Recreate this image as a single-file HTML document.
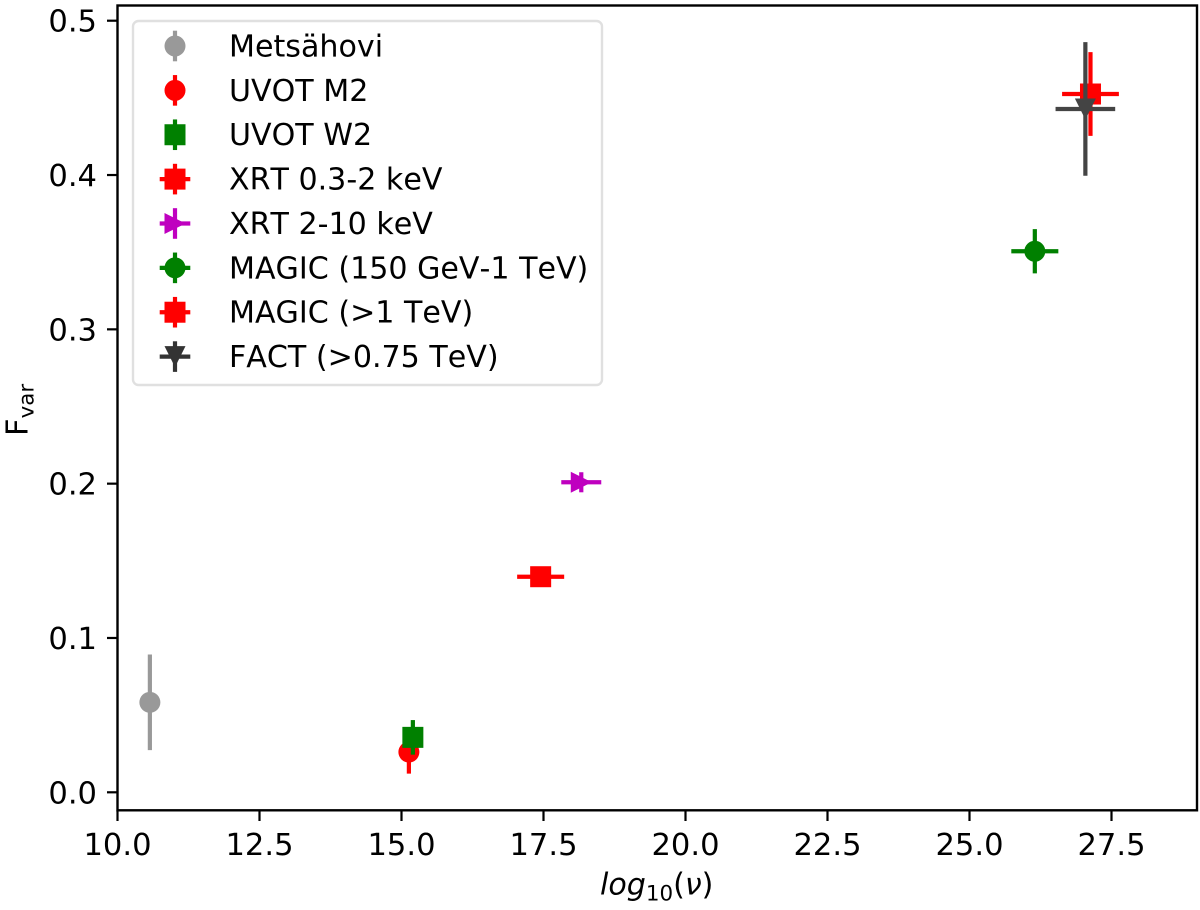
<!DOCTYPE html>
<html lang="en">
<head>
<meta charset="utf-8">
<title>Fractional variability vs frequency</title>
<style>
html,body{margin:0;padding:0;background:#fff;}
body{width:1200px;height:910px;overflow:hidden;}
svg{display:block;}
text{font-family:"DejaVu Sans","Liberation Sans",sans-serif;fill:#000;font-size:30.56px;font-kerning:none;}
text.legend-label,text.x-title{font-size:30.1px;}
</style>
</head>
<body>
<svg id="chart" xmlns="http://www.w3.org/2000/svg" width="1200" height="910" viewBox="0 0 1200 910">
  <rect x="0" y="0" width="1200" height="910" fill="#ffffff"/>
  <g id="plot"></g>
  <rect x="117.5" y="5.5" width="1079.5" height="804.8" fill="none" stroke="#000" stroke-width="2.4"/>
  <g id="ticks"></g>
  <g id="legend">
    <rect x="133" y="21" width="469" height="364" rx="5.5" ry="5.5" fill="#ffffff" fill-opacity="0.8" stroke="#e0e0e0" stroke-width="2.4"/>
  </g>
  <text class="x-title" x="600" y="894.5"><tspan font-style="italic">log</tspan><tspan style="font-size:21.4px" dy="6">10</tspan><tspan dy="-6">(</tspan><tspan font-style="italic">ν</tspan><tspan>)</tspan></text>
  <text transform="translate(27.3,436) rotate(-90)" x="0" y="0">F<tspan style="font-size:21.4px" dy="6">var</tspan></text>
</svg>
<script>
// Chart data
const categories = ['Metsähovi', 'UVOT M2', 'UVOT W2', 'XRT 0.3-2 keV', 'XRT 2-10 keV', 'MAGIC (150 GeV-1 TeV)', 'MAGIC (>1 TeV)', 'FACT (>0.75 TeV)'];
const logNu = [10.57, 15.13, 15.2, 17.45, 18.165, 26.15, 27.13, 27.04];
const fvar = [0.0583, 0.0261, 0.0356, 0.1397, 0.2009, 0.3506, 0.4525, 0.4428];
const logNuErr = [0, 0, 0, 0.414, 0.352, 0.414, 0.5, 0.525];
const fvarErr = [0.031, 0.014, 0.0112, 0.005, 0.0065, 0.0143, 0.0271, 0.0433];
const xTickValues = [10, 12.5, 15, 17.5, 20, 22.5, 25, 27.5];
const xTickLabels = ['10.0', '12.5', '15.0', '17.5', '20.0', '22.5', '25.0', '27.5'];
const yTickValues = [0, 0.1, 0.2, 0.3, 0.4, 0.5];
const yTickLabels = ['0.0', '0.1', '0.2', '0.3', '0.4', '0.5'];
const seriesColors = ['#999999', '#ff0000', '#008000', '#ff0000', '#bf00bf', '#008000', '#ff0000', '#444444'];
const legendColors = ['#999999', '#ff0000', '#008000', '#ff0000', '#bf00bf', '#008000', '#ff0000', '#333333'];
const seriesMarkers = ['circle', 'circle', 'square', 'square', 'triangle-right', 'circle', 'square', 'triangle-down'];

// Axis functions
const xScale = v => 117.5 + (v - 10) * 56.8;
const yScale = v => 792.3 - v * 1543.2;

const NS = 'http://www.w3.org/2000/svg';
const MARKER_R = 10.5;
const LINE_W = 4.2;

function svgEl(tag, attrs, parent) {
  const el = document.createElementNS(NS, tag);
  for (const k in attrs) el.setAttribute(k, attrs[k]);
  parent.appendChild(el);
  return el;
}

function slug(s) {
  return s.toLowerCase().replace(/[^a-z0-9]+/g, '-').replace(/^-|-$/g, '');
}

function drawMarker(kind, cx, cy, color, parent, name) {
  const r = MARKER_R;
  let el;
  if (kind === 'circle') {
    el = svgEl('circle', {cx: cx, cy: cy, r: r, fill: color}, parent);
  } else if (kind === 'square') {
    el = svgEl('rect', {x: cx - r, y: cy - r, width: 2 * r, height: 2 * r, fill: color}, parent);
  } else if (kind === 'triangle-right') {
    el = svgEl('polygon', {points: (cx - r) + ',' + (cy - r) + ' ' + (cx + r) + ',' + cy + ' ' + (cx - r) + ',' + (cy + r), fill: color}, parent);
  } else {
    el = svgEl('polygon', {points: (cx - r) + ',' + (cy - r) + ' ' + (cx + r) + ',' + (cy - r) + ' ' + cx + ',' + (cy + r), fill: color}, parent);
  }
  
  
}

function drawBar(x1, y1, x2, y2, color, parent, name) {
  const el = svgEl('line', {x1: x1, y1: y1, x2: x2, y2: y2, stroke: color, 'stroke-width': LINE_W}, parent);
  
  
}

// Ticks
const tickGroup = document.getElementById('ticks');
xTickValues.forEach((v, i) => {
  const px = xScale(v);
  const tick = svgEl('line', {x1: px, y1: 810.3, x2: px, y2: 821, stroke: '#000', 'stroke-width': 2.2}, tickGroup);
  
  
  const label = svgEl('text', {x: px, y: 855, 'text-anchor': 'middle'}, tickGroup);
  label.textContent = xTickLabels[i];
  
  
});
yTickValues.forEach((v, i) => {
  const py = yScale(v);
  const tick = svgEl('line', {x1: 107, y1: py, x2: 117.5, y2: py, stroke: '#000', 'stroke-width': 2.2}, tickGroup);
  
  
  const label = svgEl('text', {x: 97, y: py + 11, 'text-anchor': 'end'}, tickGroup);
  label.textContent = yTickLabels[i];
  
  
});

// Series
const plot = document.getElementById('plot');
categories.forEach((cat, i) => {
  const id = slug(cat);
  const g = svgEl('g', {}, plot);
  
  
  const cx = xScale(logNu[i]);
  const cy = yScale(fvar[i]);
  const c = seriesColors[i];
  if (logNuErr[i] > 0) {
    drawBar(xScale(logNu[i] - logNuErr[i]), cy, xScale(logNu[i] + logNuErr[i]), cy, c, g, 'x-error-bar-' + id);
  }
  drawBar(cx, yScale(fvar[i] - fvarErr[i]), cx, yScale(fvar[i] + fvarErr[i]), c, g, 'y-error-bar-' + id);
  drawMarker(seriesMarkers[i], cx, cy, c, g, 'point-' + id);
});

// Legend
const legend = document.getElementById('legend');
categories.forEach((cat, i) => {
  const id = slug(cat);
  const rowY = 46 + i * 44.37;
  const g = svgEl('g', {}, legend);
  
  
  const c = legendColors[i];
  if (logNuErr[i] > 0) {
    drawBar(159.7, rowY, 190.3, rowY, c, g, 'legend-x-bar-' + id);
  }
  drawBar(175, rowY - 15.3, 175, rowY + 15.3, c, g, 'legend-y-bar-' + id);
  drawMarker(seriesMarkers[i], 175, rowY, c, g, 'legend-marker-' + id);
  const t = svgEl('text', {x: 229, y: rowY + 10.5, class: 'legend-label'}, g);
  t.textContent = cat;
  
  
});
</script>
</body>
</html>
